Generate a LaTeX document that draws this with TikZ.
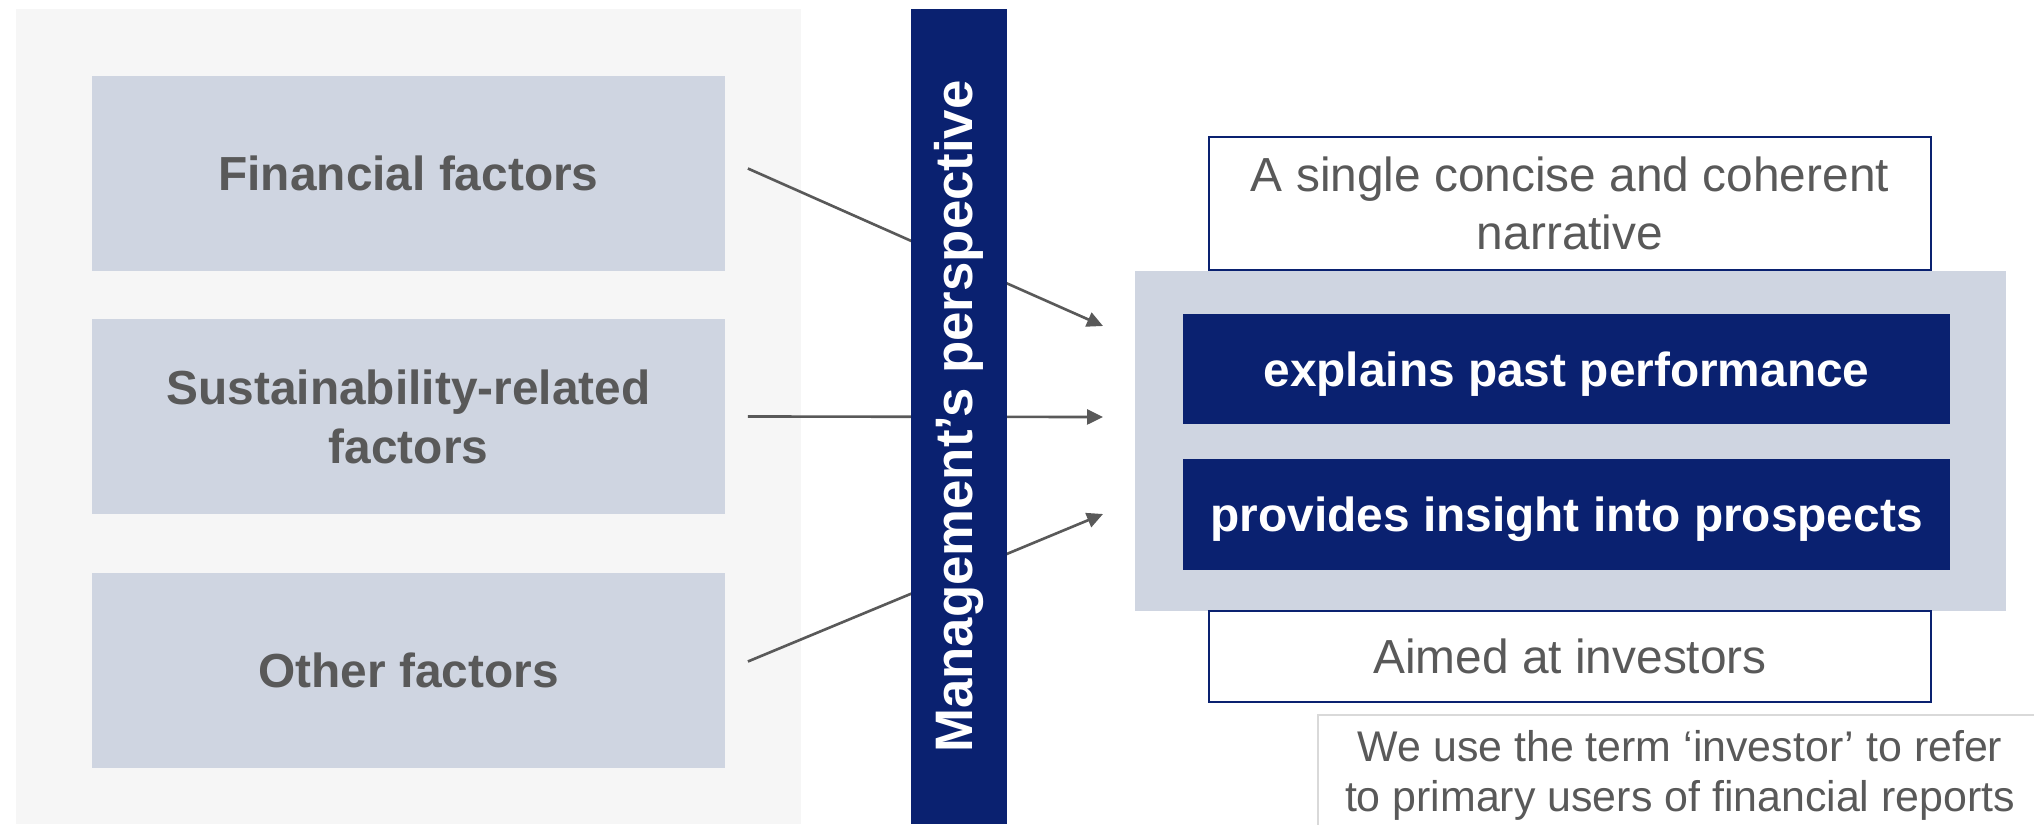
\documentclass[tikz,border=0pt]{standalone}
\usepackage{fontspec}
\setmainfont{Liberation Sans}
\usetikzlibrary{arrows.meta}
\definecolor{navy}{RGB}{10,33,112}
\definecolor{boxgray}{RGB}{207,213,225}
\definecolor{panelgray}{RGB}{246,246,246}
\definecolor{textgray}{RGB}{89,89,89}
\definecolor{linegray}{RGB}{217,217,217}
\tikzset{
  factor/.style={fill=boxgray, text=textgray, font=\bfseries\fontsize{13.6}{16.8}\selectfont,
    minimum width=6.33cm, minimum height=1.95cm, inner sep=0pt, align=center, text depth=0pt},
  navybox/.style={fill=navy, text=white, font=\bfseries\fontsize{13.6}{16.5}\selectfont,
    minimum width=7.67cm, minimum height=1.1cm, inner sep=0pt, text depth=0pt},
  whitebox/.style={draw=navy, line width=0.6pt, fill=white, text=textgray,
    font=\fontsize{13.6}{16.5}\selectfont, minimum width=7.22cm, inner sep=0pt, align=center},
  arr/.style={draw=textgray, line width=0.75pt, -{Triangle[length=0.16cm,width=0.15cm]}},
}
\begin{document}
\begin{tikzpicture}[x=0.01cm,y=-0.01cm]
\useasboundingbox (0,0) rectangle (2034,824);
% linke Seite
\fill[panelgray] (16,9) rectangle (801,824);
\node[factor] (fin) at (408.5,173.5) {Financial factors};
\node[factor] (sus) at (408.5,416.5) {Sustainability-related\\factors};
\node[factor] (oth) at (408.5,670.5) {Other factors};
% Pfeile
\coordinate (in1) at (1103,326);
\coordinate (in2) at (1103,417);
\coordinate (in3) at (1103,514);
\draw[arr] ([xshift=0.22cm,yshift=0.05cm]fin.east) -- (in1);
\draw[arr] ([xshift=0.22cm]sus.east) -- (in2);
\draw[arr] ([xshift=0.22cm,yshift=0.09cm]oth.east) -- (in3);
% Balken
\node[fill=navy, text=white, minimum width=8.15cm, minimum height=0.96cm, inner sep=0pt,
  rotate=90, font=\bfseries\fontsize{15}{18}\selectfont] (mgmt) at (959,416.5) {Management’s perspective};
% rechte Seite
\fill[boxgray] (1135,271) rectangle (2006,611);
\node[whitebox, minimum height=1.33cm] (single) at (1570,203.5) {A single concise and coherent\\narrative};
\node[navybox] (past) at (1566.5,369) {explains past performance};
\node[navybox] (pros) at (1566.5,514.5) {provides insight into prospects};
\node[whitebox, minimum height=0.91cm] (aim) at (1570,656.5) {Aimed at investors};
% Fussnote
\draw[linegray, line width=0.6pt, fill=white] (1318,715) rectangle (2045,835);
\node[text=textgray, align=center, font=\fontsize{12.2}{14.2}\selectfont] (note) at (1680,775)
  {We use the term ‘investor’ to refer\\to primary users of financial reports};
\end{tikzpicture}
\end{document}
